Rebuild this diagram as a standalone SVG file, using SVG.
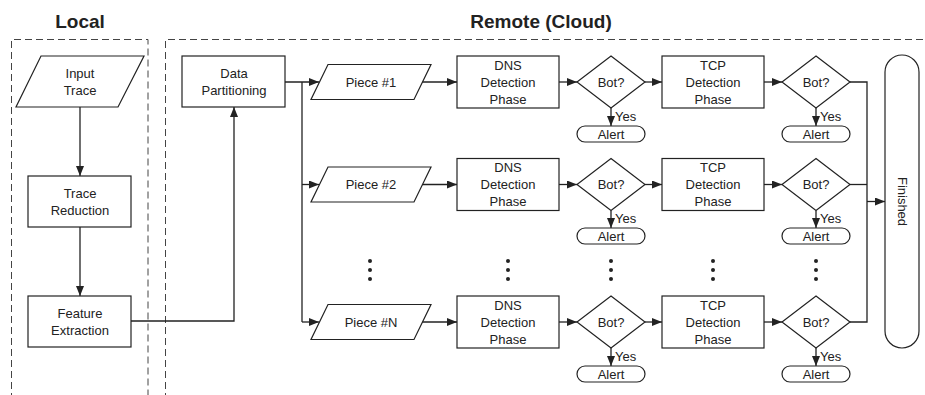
<svg xmlns="http://www.w3.org/2000/svg" width="925" height="395" viewBox="0 0 925 395">
<defs>
<style>
.s{fill:#fff;stroke:#222;stroke-width:1.2}
.t{font-family:"Liberation Sans",Arial,sans-serif;font-size:13px;fill:#222;text-anchor:middle}
.y{font-family:"Liberation Sans",Arial,sans-serif;font-size:13px;fill:#222}
.h{font-family:"Liberation Sans",Arial,sans-serif;font-size:19px;font-weight:bold;fill:#222;text-anchor:middle}
.c{fill:none;stroke:#222;stroke-width:1.3}
.d{fill:none;stroke:#444;stroke-width:1;stroke-dasharray:7,4}
.dot{fill:#222}
</style>
<marker id="a" markerUnits="userSpaceOnUse" markerWidth="10" markerHeight="8" refX="10" refY="4" orient="auto">
<path d="M0,0 L10,4 L0,8 z" fill="#222"/>
</marker>
</defs>

<g id="regions">
<path class="d" d="M11.5,400 V39.5 H148 V400"/>
<path class="d" d="M165.5,400 V39.5 H930"/>
<text class="h" x="80" y="28">Local</text>
<text class="h" x="541" y="28">Remote (Cloud)</text>
</g>

<g id="connectors">
<path class="c" d="M80,107 V176" marker-end="url(#a)"/>
<path class="c" d="M80,227 V296" marker-end="url(#a)"/>
<path class="c" d="M131,321 H234 V107" marker-end="url(#a)"/>
<path class="c" d="M285,82 H319" marker-end="url(#a)"/>
<path class="c" d="M302,82 V322"/>
<path class="c" d="M302,184.5 H319" marker-end="url(#a)"/>
<path class="c" d="M302,322 H319" marker-end="url(#a)"/>
<!-- row 1 -->
<path class="c" d="M422,82 H457" marker-end="url(#a)"/>
<path class="c" d="M559,82 H577" marker-end="url(#a)"/>
<path class="c" d="M611,108 V126" marker-end="url(#a)"/>
<path class="c" d="M645,82 H662" marker-end="url(#a)"/>
<path class="c" d="M764,82 H782" marker-end="url(#a)"/>
<path class="c" d="M816,108 V126" marker-end="url(#a)"/>
<!-- row 2 -->
<path class="c" d="M422,184.5 H457" marker-end="url(#a)"/>
<path class="c" d="M559,184.5 H577" marker-end="url(#a)"/>
<path class="c" d="M611,210.5 V228" marker-end="url(#a)"/>
<path class="c" d="M645,184.5 H662" marker-end="url(#a)"/>
<path class="c" d="M764,184.5 H782" marker-end="url(#a)"/>
<path class="c" d="M816,210.5 V228" marker-end="url(#a)"/>
<!-- row N -->
<path class="c" d="M422,322 H457" marker-end="url(#a)"/>
<path class="c" d="M559,322 H577" marker-end="url(#a)"/>
<path class="c" d="M611,348 V366" marker-end="url(#a)"/>
<path class="c" d="M645,322 H662" marker-end="url(#a)"/>
<path class="c" d="M764,322 H782" marker-end="url(#a)"/>
<path class="c" d="M816,348 V366" marker-end="url(#a)"/>
<!-- merge to finished -->
<path class="c" d="M850,82 H867 V322 H850"/>
<path class="c" d="M850,184.5 H867"/>
<path class="c" d="M867,201.5 H885" marker-end="url(#a)"/>
<!-- yes labels -->
<text class="y" x="615" y="121">Yes</text>
<text class="y" x="820" y="121">Yes</text>
<text class="y" x="615" y="223">Yes</text>
<text class="y" x="820" y="223">Yes</text>
<text class="y" x="615" y="361">Yes</text>
<text class="y" x="820" y="361">Yes</text>
</g>

<g id="input-trace">
<polygon class="s" points="41,56 144,56 118,107 16,107"/>
<text class="t" x="80" y="78">Input</text>
<text class="t" x="80" y="95">Trace</text>
</g>
<g id="trace-reduction">
<rect class="s" x="28" y="176" width="103" height="51"/>
<text class="t" x="80" y="198">Trace</text>
<text class="t" x="80" y="215">Reduction</text>
</g>
<g id="feature-extraction">
<rect class="s" x="28" y="296" width="103" height="51"/>
<text class="t" x="80" y="318">Feature</text>
<text class="t" x="80" y="335">Extraction</text>
</g>
<g id="data-partitioning">
<rect class="s" x="182" y="56" width="103" height="51"/>
<text class="t" x="234" y="78">Data</text>
<text class="t" x="234" y="95">Partitioning</text>
</g>

<!-- Row 1 -->
<g id="piece-1">
<polygon class="s" points="328,64.5 431,64.5 414,99.5 311,99.5"/>
<text class="t" x="371" y="86.5">Piece #1</text>
</g>
<g id="dns-1">
<rect class="s" x="457" y="56" width="102" height="52"/>
<text class="t" x="508" y="69.5">DNS</text>
<text class="t" x="508" y="86.5">Detection</text>
<text class="t" x="508" y="103.5">Phase</text>
</g>
<g id="bot-dns-1">
<polygon class="s" points="611,56 645,82 611,108 577,82"/>
<text class="t" x="611" y="86.5">Bot?</text>
</g>
<g id="alert-dns-1">
<rect class="s" x="577" y="126" width="68" height="16" rx="8"/>
<text class="t" x="611" y="138.5">Alert</text>
</g>
<g id="tcp-1">
<rect class="s" x="662" y="56" width="102" height="52"/>
<text class="t" x="713" y="69.5">TCP</text>
<text class="t" x="713" y="86.5">Detection</text>
<text class="t" x="713" y="103.5">Phase</text>
</g>
<g id="bot-tcp-1">
<polygon class="s" points="816,56 850,82 816,108 782,82"/>
<text class="t" x="816" y="86.5">Bot?</text>
</g>
<g id="alert-tcp-1">
<rect class="s" x="782" y="126" width="68" height="16" rx="8"/>
<text class="t" x="816" y="138.5">Alert</text>
</g>

<!-- Row 2 -->
<g id="piece-2">
<polygon class="s" points="328,167 431,167 414,202 311,202"/>
<text class="t" x="371" y="189">Piece #2</text>
</g>
<g id="dns-2">
<rect class="s" x="457" y="158.5" width="102" height="52"/>
<text class="t" x="508" y="172">DNS</text>
<text class="t" x="508" y="189">Detection</text>
<text class="t" x="508" y="206">Phase</text>
</g>
<g id="bot-dns-2">
<polygon class="s" points="611,158.5 645,184.5 611,210.5 577,184.5"/>
<text class="t" x="611" y="189">Bot?</text>
</g>
<g id="alert-dns-2">
<rect class="s" x="577" y="228" width="68" height="16" rx="8"/>
<text class="t" x="611" y="240.5">Alert</text>
</g>
<g id="tcp-2">
<rect class="s" x="662" y="158.5" width="102" height="52"/>
<text class="t" x="713" y="172">TCP</text>
<text class="t" x="713" y="189">Detection</text>
<text class="t" x="713" y="206">Phase</text>
</g>
<g id="bot-tcp-2">
<polygon class="s" points="816,158.5 850,184.5 816,210.5 782,184.5"/>
<text class="t" x="816" y="189">Bot?</text>
</g>
<g id="alert-tcp-2">
<rect class="s" x="782" y="228" width="68" height="16" rx="8"/>
<text class="t" x="816" y="240.5">Alert</text>
</g>

<!-- Ellipsis -->
<g id="ellipsis">
<circle class="dot" cx="370" cy="261" r="2"/><circle class="dot" cx="370" cy="270" r="2"/><circle class="dot" cx="370" cy="279" r="2"/>
<circle class="dot" cx="508" cy="261" r="2"/><circle class="dot" cx="508" cy="270" r="2"/><circle class="dot" cx="508" cy="279" r="2"/>
<circle class="dot" cx="611" cy="261" r="2"/><circle class="dot" cx="611" cy="270" r="2"/><circle class="dot" cx="611" cy="279" r="2"/>
<circle class="dot" cx="713" cy="261" r="2"/><circle class="dot" cx="713" cy="270" r="2"/><circle class="dot" cx="713" cy="279" r="2"/>
<circle class="dot" cx="816" cy="261" r="2"/><circle class="dot" cx="816" cy="270" r="2"/><circle class="dot" cx="816" cy="279" r="2"/>
</g>

<!-- Row N -->
<g id="piece-n">
<polygon class="s" points="328,304.5 431,304.5 414,339.5 311,339.5"/>
<text class="t" x="371" y="326.5">Piece #N</text>
</g>
<g id="dns-n">
<rect class="s" x="457" y="296" width="102" height="52"/>
<text class="t" x="508" y="309.5">DNS</text>
<text class="t" x="508" y="326.5">Detection</text>
<text class="t" x="508" y="343.5">Phase</text>
</g>
<g id="bot-dns-n">
<polygon class="s" points="611,296 645,322 611,348 577,322"/>
<text class="t" x="611" y="326.5">Bot?</text>
</g>
<g id="alert-dns-n">
<rect class="s" x="577" y="366" width="68" height="16" rx="8"/>
<text class="t" x="611" y="378.5">Alert</text>
</g>
<g id="tcp-n">
<rect class="s" x="662" y="296" width="102" height="52"/>
<text class="t" x="713" y="309.5">TCP</text>
<text class="t" x="713" y="326.5">Detection</text>
<text class="t" x="713" y="343.5">Phase</text>
</g>
<g id="bot-tcp-n">
<polygon class="s" points="816,296 850,322 816,348 782,322"/>
<text class="t" x="816" y="326.5">Bot?</text>
</g>
<g id="alert-tcp-n">
<rect class="s" x="782" y="366" width="68" height="16" rx="8"/>
<text class="t" x="816" y="378.5">Alert</text>
</g>

<g id="finished">
<rect class="s" x="885" y="55" width="34" height="293" rx="17"/>
<text class="t" x="0" y="0" transform="translate(897.5,201.5) rotate(90)">Finished</text>
</g>
</svg>
